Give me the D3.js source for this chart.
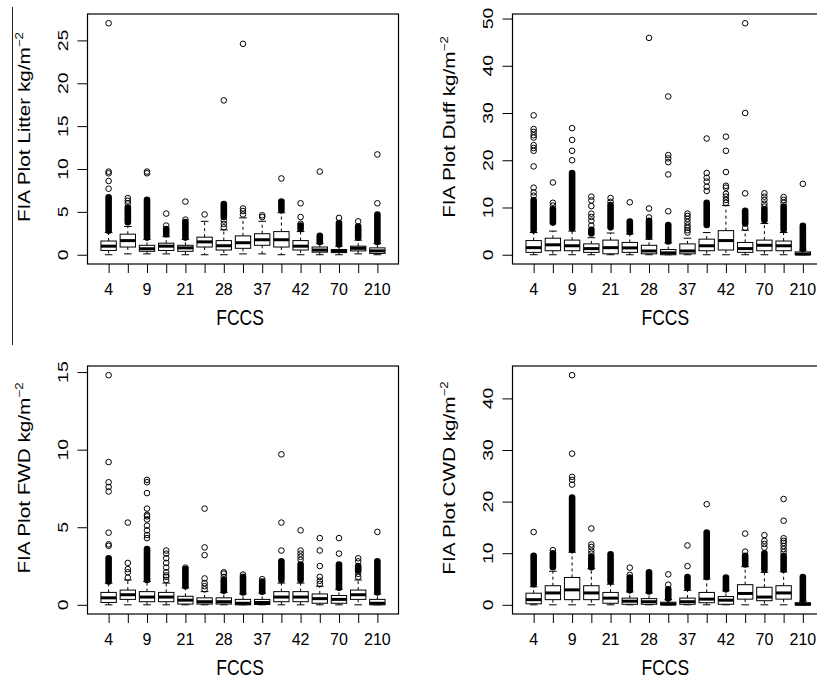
<!DOCTYPE html>
<html>
<head>
<meta charset="utf-8">
<script src="https://cdn.jsdelivr.net/npm/d3@7"></script>
<style>
  body { margin: 0; background: #fff; }
  svg { display: block; }
  text { font-family: "Liberation Sans", Arial, Helvetica, sans-serif; fill: #000; }
</style>
</head>
<body>
<script>
// FCCS fuelbed groups along the x axis (15 boxes); only every other label fits.
const fccsTickLabels = ["4", "", "9", "", "21", "", "28", "", "37", "", "42", "", "70", "", "210"];

// Box statistics per FCCS group: [lower whisker, Q1, median, Q3, upper whisker]  (kg/m^2)
const litterStats = [
  [0, 0.5, 1.0, 1.6, 2.6], [0.1, 0.9, 1.65, 2.4, 3.3], [0.1, 0.4, 0.7, 1.1, 1.8],
  [0.1, 0.5, 1.0, 1.35, 2.1], [0, 0.4, 0.8, 1.1, 1.8], [0, 0.9, 1.5, 2.05, 3.9],
  [0, 0.55, 1.05, 1.65, 2.9], [0.1, 0.75, 1.4, 2.2, 4.3], [0.1, 1.1, 1.75, 2.45, 3.9],
  [0, 0.9, 1.75, 2.7, 4.9], [0, 0.55, 1.0, 1.65, 2.7], [0, 0.3, 0.55, 0.9, 1.3],
  [0, 0.25, 0.45, 0.6, 1.0], [0.1, 0.45, 0.75, 1.0, 1.7], [0, 0.15, 0.45, 0.8, 1.3]
];
// Runs of outliers packed so tightly that they form a solid column: [from, to]
const litterDense = [
  [[2.8, 6.7]], [[3.8, 5.5]], [[2.0, 6.4]], [[2.4, 3.0]], [[2.0, 3.8]], [],
  [[4.4, 5.9]], [], [], [[5.2, 6.2]], [[3.0, 3.4]], [[1.5, 2.2]],
  [[1.2, 3.7]], [[2.0, 3.3]], [[1.5, 4.7]]
];
// Individual outliers
const litterOut = [
  [7.7, 8.6, 9.5, 9.7, 27], [6.0, 6.3, 6.6], [9.5, 9.7], [3.4, 4.8], [4.1, 6.2], [4.7],
  [3.2, 3.6, 4.0, 18.0], [4.7, 5.1, 5.4, 24.6], [4.4, 4.6], [8.9], [3.6, 4.4, 6.0], [9.7],
  [4.3], [3.9], [6.0, 11.7]
];

const duffStats = [
  [0, 0.5, 1.5, 3.0, 4.7], [0, 0.85, 2.1, 3.5, 5.0], [0, 0.85, 1.9, 3.1, 5.0],
  [0, 0.5, 1.3, 2.3, 3.6], [0, 0.2, 1.5, 3.1, 4.6], [0, 0.5, 1.45, 2.6, 4.4],
  [0, 0.2, 0.8, 2.0, 3.3], [0, 0, 0.4, 1.1, 2.5], [0, 0.2, 0.8, 2.3, 3.5],
  [0, 0.85, 1.9, 3.3, 4.7], [0, 1.0, 3.0, 5.1, 10.4], [0, 0.5, 1.3, 2.6, 5.2],
  [0, 0.85, 2.0, 3.1, 6.6], [0, 0.85, 1.9, 2.9, 4.7], [0, 0, 0.15, 0.6, 1.0]
];
const duffDense = [
  [[5.2, 11.5]], [[6.8, 9.6]], [[5.6, 17.3]], [[4.5, 5.3]], [[5.8, 10.5]], [[4.8, 7.0]],
  [[3.8, 7.2]], [[2.8, 6.3]], [], [[6.3, 11.0]], [], [[6.6, 9.3]],
  [[7.3, 9.6]], [[5.3, 10.2]], [[1.2, 6.1]]
];
const duffOut = [
  [12.5, 13.2, 14.2, 18.7, 22.0, 22.6, 23.2, 24.8, 25.3, 26.0, 26.6, 29.5],
  [10.4, 11.0, 15.3], [20.0, 22.0, 24.3, 26.8], [6.2, 7.2, 8.0, 8.7, 10.3, 11.5, 12.3],
  [11.2, 12.0], [11.1], [7.9, 9.8, 45.9], [9.2, 17.0, 19.6, 20.4, 21.1, 33.5],
  [4.7, 5.2, 5.7, 6.2, 6.9, 7.6, 8.2, 8.7], [13.5, 14.4, 15.5, 16.3, 17.3, 24.6],
  [11.0, 11.6, 12.3, 12.9, 14.2, 14.6, 17.5, 22.0, 25.0], [5.7, 13.0, 30.0, 49.0],
  [10.2, 10.8, 11.6, 12.3, 13.0], [11.0, 11.6, 12.2], [15.0]
];

const fwdStats = [
  [0, 0.15, 0.45, 0.8, 1.4], [0, 0.35, 0.65, 0.95, 1.6], [0, 0.2, 0.5, 0.85, 1.5],
  [0, 0.2, 0.5, 0.8, 1.4], [0, 0.05, 0.3, 0.55, 1.1], [0, 0.05, 0.2, 0.45, 0.85],
  [0, 0.05, 0.2, 0.45, 0.8], [0, 0, 0.1, 0.35, 0.7], [0, 0.02, 0.15, 0.35, 0.75],
  [0, 0.2, 0.5, 0.85, 1.4], [0, 0.2, 0.5, 0.85, 1.4], [0, 0.1, 0.4, 0.7, 1.2],
  [0, 0.1, 0.35, 0.6, 1.0], [0, 0.35, 0.65, 0.95, 1.6], [0, 0, 0.1, 0.35, 0.7]
];
const fwdDense = [
  [[1.5, 3.0]], [], [[1.6, 3.6]], [], [[1.2, 2.3]], [],
  [[0.9, 1.6]], [[0.8, 1.8]], [[0.85, 1.5]], [[1.6, 2.8]], [[1.6, 2.6]], [],
  [[1.1, 2.6]], [[2.2, 2.5]], [[0.8, 2.8]]
];
const fwdOut = [
  [3.8, 3.9, 4.65, 7.3, 7.6, 7.9, 9.2, 14.8], [1.75, 2.1, 2.3, 2.7, 5.3],
  [4.3, 4.5, 4.8, 5.1, 5.5, 5.7, 5.8, 6.2, 7.2, 7.9, 8.05],
  [1.6, 1.8, 1.9, 2.1, 2.4, 2.7, 3.0, 3.3, 3.5], [2.4], [1.0, 1.2, 1.4, 1.7, 3.2, 3.7, 6.2],
  [1.8, 2.0, 2.1], [1.95], [1.65], [3.5, 5.3, 9.7], [2.9, 3.1, 3.3, 3.5, 4.8],
  [1.35, 1.55, 1.8, 2.5, 3.5, 4.3], [3.3, 4.3], [1.8, 2.0, 2.8, 3.0], [4.7]
];

const cwdStats = [
  [0, 0.2, 1.0, 2.25, 3.5], [0, 1.0, 2.3, 3.7, 6.5], [0, 1.0, 2.9, 5.3, 10.2],
  [0, 1.0, 2.3, 3.7, 7.0], [0, 0.3, 1.3, 2.4, 4.0], [0, 0.1, 0.7, 1.3, 2.5],
  [0, 0.1, 0.6, 1.2, 2.3], [0, 0, 0.15, 0.5, 1.0], [0, 0.1, 0.6, 1.3, 2.8],
  [0, 0.4, 1.1, 2.4, 5.0], [0, 0.1, 0.9, 1.6, 2.7], [0, 1.1, 2.2, 3.9, 7.4],
  [0, 0.8, 1.5, 3.4, 6.3], [0, 1.1, 2.3, 3.7, 6.4], [0, 0, 0.1, 0.4, 0.7]
];
const cwdDense = [
  [[4.0, 9.5]], [[7.3, 10.0]], [[10.6, 20.8]], [[7.3, 9.3]], [[4.5, 9.8]], [[2.8, 5.3]],
  [[2.6, 6.3]], [[1.2, 3.0]], [[3.3, 5.4]], [[5.4, 14.0]], [[3.0, 5.3]], [[7.8, 9.5]],
  [[6.8, 10.0]], [[6.8, 9.5]], [[1.0, 5.4]]
];
const cwdOut = [
  [14.1], [10.6], [23.3, 24.2, 24.8, 29.3, 44.5], [9.9, 10.5, 11.2, 11.7, 14.8], [],
  [5.8, 7.2], [], [3.9, 5.9], [7.5, 11.5], [19.5], [], [10.3, 13.8],
  [11.1, 11.8, 12.4, 13.5], [10.2, 10.8, 11.4, 12.0, 12.4, 12.9, 16.3, 20.5], []
];

// y-axis tick values for each panel
const litterTicks = [0, 5, 10, 15, 20, 25];
const duffTicks = [0, 10, 20, 30, 40, 50];
const fwdTicks = [0, 5, 10, 15];
const cwdTicks = [0, 10, 20, 30, 40];

const W = 817, H = 679;
const panels = [
  { name: "Litter", stats: litterStats, dense: litterDense, out: litterOut, ticks: litterTicks,
    frame: { left: 87.5, right: 398.5, top: 14, bottom: 264 } },
  { name: "Duff", stats: duffStats, dense: duffDense, out: duffOut, ticks: duffTicks,
    frame: { left: 512.5, right: 824, top: 14, bottom: 264 } },
  { name: "FWD", stats: fwdStats, dense: fwdDense, out: fwdOut, ticks: fwdTicks,
    frame: { left: 87.5, right: 398.5, top: 366, bottom: 614 } },
  { name: "CWD", stats: cwdStats, dense: cwdDense, out: cwdOut, ticks: cwdTicks,
    frame: { left: 512.5, right: 824, top: 366, bottom: 614 } }
];

const svg = d3.select("body").append("svg")
  .attr("width", W).attr("height", H)
  .attr("viewBox", `0 0 ${W} ${H}`);

svg.append("rect").attr("width", W).attr("height", H).attr("fill", "#fff");

// thin rule on the far left of the figure
svg.append("line")
  .attr("x1", 12.5).attr("x2", 12.5).attr("y1", 7).attr("y2", 345)
  .attr("stroke", "#222").attr("stroke-width", 1);

// text helper: the figure's lettering is drawn slightly taller than wide
function addText(g, x, y, str, size, sy, rot, anchor) {
  return g.append("text")
    .attr("transform", `translate(${x},${y}) scale(1,${sy}) rotate(${rot})`)
    .attr("font-size", size)
    .attr("text-anchor", anchor)
    .text(str);
}

const n = fccsTickLabels.length;
const boxHalf = 0.4, stapleHalf = 0.2;
const ptR = 2.8;

panels.forEach(p => {
  const f = p.frame;
  const g = svg.append("g");

  // y range padded by 4% as in base-R plots
  const allVals = p.stats.flat().concat(p.out.flat(), p.dense.flat(2));
  const [lo, hi] = d3.extent(allVals);
  const pad = (hi - lo) * 0.04;
  const y = d3.scaleLinear().domain([lo - pad, hi + pad]).range([f.bottom, f.top]);
  const x = d3.scaleLinear().domain([0.5 - 0.04 * n, n + 0.5 + 0.04 * n]).range([f.left, f.right]);
  const idx = d3.range(1, n + 1);

  // whiskers (dashed) and staples
  p.stats.forEach((s, i) => {
    const cx = x(i + 1);
    const [wl, q1, med, q3, wh] = s;
    const wg = g.append("g").attr("stroke", "#000").attr("stroke-width", 1);
    wg.append("line").attr("x1", cx).attr("x2", cx).attr("y1", y(q3)).attr("y2", y(wh))
      .attr("stroke-dasharray", "3,3");
    wg.append("line").attr("x1", cx).attr("x2", cx).attr("y1", y(q1)).attr("y2", y(wl))
      .attr("stroke-dasharray", "3,3");
    [wl, wh].forEach(v => {
      wg.append("line")
        .attr("x1", x(i + 1 - stapleHalf)).attr("x2", x(i + 1 + stapleHalf))
        .attr("y1", y(v)).attr("y2", y(v));
    });
    // box
    g.append("rect")
      .attr("x", x(i + 1 - boxHalf)).attr("width", x(i + 1 + boxHalf) - x(i + 1 - boxHalf))
      .attr("y", y(q3)).attr("height", Math.max(0.5, y(q1) - y(q3)))
      .attr("fill", "#fff").attr("stroke", "#000").attr("stroke-width", 1);
    // median
    g.append("line")
      .attr("x1", x(i + 1 - boxHalf)).attr("x2", x(i + 1 + boxHalf))
      .attr("y1", y(med)).attr("y2", y(med))
      .attr("stroke", "#000").attr("stroke-width", 3);
  });

  // packed outlier columns
  p.dense.forEach((runs, i) => {
    runs.forEach(r => {
      g.append("line")
        .attr("x1", x(i + 1)).attr("x2", x(i + 1))
        .attr("y1", y(r[0])).attr("y2", y(r[1]))
        .attr("stroke", "#000").attr("stroke-width", 2 * ptR + 1)
        .attr("stroke-linecap", "round");
    });
  });

  // individual outliers
  p.out.forEach((vals, i) => {
    g.selectAll(null).data(vals).enter().append("circle")
      .attr("cx", x(i + 1)).attr("cy", d => y(d)).attr("r", ptR)
      .attr("fill", "none").attr("stroke", "#000").attr("stroke-width", 1);
  });

  // x axis
  const xAxis = d3.axisBottom(x).tickValues(idx).tickSize(9).tickPadding(0)
    .tickFormat(() => "");
  g.append("g").attr("transform", `translate(0,${f.bottom})`).call(xAxis)
    .call(a => a.select(".domain").remove())
    .call(a => a.selectAll("line").attr("stroke", "#000"));
  idx.forEach((v, i) => {
    if (fccsTickLabels[i]) addText(g, x(v), f.bottom + 31, fccsTickLabels[i], 16, 1.05, 0, "middle");
  });
  addText(g, (f.left + f.right) / 2 - 3, f.bottom + 61, "FCCS", 17.5, 1.3, 0, "middle");

  // y axis
  const yAxis = d3.axisLeft(y).tickValues(p.ticks).tickSize(10).tickFormat(() => "");
  g.append("g").attr("transform", `translate(${f.left},0)`).call(yAxis)
    .call(a => a.select(".domain").remove())
    .call(a => a.selectAll("line").attr("stroke", "#000"));
  p.ticks.forEach(t => addText(g, f.left - 19.5, y(t), String(t), 15, 1.3, -90, "middle"));

  const title = addText(g, f.left - 58, (f.top + f.bottom) / 2 - 12, "", 16.3, 1.27, -90, "middle");
  title.append("tspan").text(`FIA Plot ${p.name} kg/m`);
  title.append("tspan").attr("dy", -6.5).attr("font-size", 10.5).text("\u22122");

  // plot frame
  g.append("rect")
    .attr("x", f.left).attr("y", f.top)
    .attr("width", f.right - f.left).attr("height", f.bottom - f.top)
    .attr("fill", "none").attr("stroke", "#000").attr("stroke-width", 1.2);
});
</script>
</body>
</html>
